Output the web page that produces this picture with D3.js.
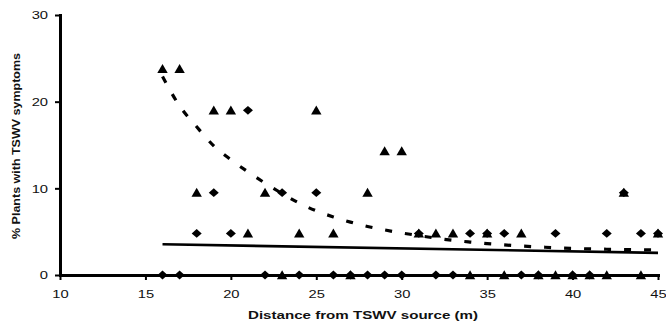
<!DOCTYPE html>
<html>
<head>
<meta charset="utf-8">
<script src="https://cdn.jsdelivr.net/npm/d3@7"></script>
<style>
  html, body { margin: 0; padding: 0; background: #fff; }
  svg { display: block; }
  text { font-family: "Liberation Sans", Arial, sans-serif; fill: #111; }
</style>
</head>
<body>
<svg id="chart" width="666" height="329"></svg>
<script>
// Distance from TSWV source (m)
const distance = [16,17,18,19,20,21,22,23,24,25,26,27,28,29,30,31,32,33,34,35,36,37,38,39,40,41,42,43,44,45];
// Series plotted with triangles (% plants with symptoms)
const triangleValues = [23.8,23.8,9.5,19.0,19.0,4.8,9.5,0,4.8,19.0,4.8,0,9.5,14.3,14.3,4.8,4.8,4.8,0,4.8,0,4.8,0,0,0,0,0,9.5,0,4.8];
// Series plotted with diamonds
const diamondValues = [0,0,4.8,9.5,4.8,19.0,0,9.5,0,9.5,0,0,0,0,0,4.8,0,0,4.8,4.8,4.8,0,0,4.8,0,0,4.8,9.5,4.8,4.8];
// Dashed trend curve
const dashedX = [16,17,18,19,20,21,22,23,24,25,26,27,28,29,30,31,32,33,34,35,36,37,38,39,40,41,42,43,44,45];
const dashedY = [22.9,19.5,17.1,14.9,13.3,11.9,10.6,9.4,8.3,7.4,6.7,6.1,5.6,5.2,4.85,4.55,4.25,4.0,3.8,3.62,3.47,3.34,3.24,3.14,3.07,3.01,2.97,2.94,2.91,2.9];
// Solid trend line endpoints
const solidX = [16,45];
const solidY = [3.55,2.55];
// Axis ticks
const xTicks = [10,15,20,25,30,35,40,45];
const yTicks = [0,10,20,30];
const xLabel = "Distance from TSWV source (m)";
const yLabel = "% Plants with TSWV symptoms";

const svg = d3.select("#chart");
const x = d3.scaleLinear().domain([10,45]).range([60,658]);
const y = d3.scaleLinear().domain([0,30]).range([275,15]);

// trend lines
const dashedData = dashedX.map((d,i)=>[d,dashedY[i]]);
svg.append("path")
  .datum(dashedData)
  .attr("fill","none").attr("stroke","#000")
  .attr("stroke-width",3.2).attr("stroke-dasharray","7,13")
  .attr("d", d3.line().x(d=>x(d[0])).y(d=>y(d[1])).curve(d3.curveMonotoneX));

const solidData = solidX.map((d,i)=>[d,solidY[i]]);
svg.append("path")
  .datum(solidData)
  .attr("fill","none").attr("stroke","#000").attr("stroke-width",2.6)
  .attr("d", d3.line().x(d=>x(d[0])).y(d=>y(d[1])));

// axes
const xAxis = svg.append("g").attr("transform","translate(0,275)")
  .call(d3.axisBottom(x).tickValues(xTicks).tickSize(5).tickSizeOuter(0).tickPadding(10));
const yAxis = svg.append("g").attr("transform","translate(60,0)")
  .call(d3.axisLeft(y).tickValues(yTicks).tickSize(5).tickSizeOuter(0).tickPadding(7));

[xAxis,yAxis].forEach(a=>{
  a.select(".domain").attr("stroke","#000").attr("stroke-width",3).attr("stroke-linecap","square");
  a.selectAll(".tick line").attr("stroke","#000").attr("stroke-width",2);
  a.selectAll(".tick text").attr("font-size","11.5px").attr("fill","#111")
    .attr("font-family","Liberation Sans, Arial, sans-serif");
});
// widen tick labels as in the reference
svg.selectAll(".tick text").each(function(){
  const t = d3.select(this);
  const w = this.getComputedTextLength();
  t.attr("textLength", w*1.28).attr("lengthAdjust","spacingAndGlyphs");
});

// markers
const diamondPath = "M0,-4.4L5,0L0,4.4L-5,0Z";
const trianglePath = "M0,-4.8L5.2,4.2L-5.2,4.2Z";
svg.append("g").selectAll("path").data(distance.map((d,i)=>[d,diamondValues[i]]))
  .join("path").attr("d",diamondPath).attr("fill","#000")
  .attr("transform",d=>`translate(${x(d[0])},${y(d[1])})`);
svg.append("g").selectAll("path").data(distance.map((d,i)=>[d,triangleValues[i]]))
  .join("path").attr("d",trianglePath).attr("fill","#000")
  .attr("transform",d=>`translate(${x(d[0])},${y(d[1])})`);

// axis titles
svg.append("text").attr("x",363).attr("y",319).attr("text-anchor","middle")
  .attr("font-size","11.5px").attr("font-weight","bold")
  .attr("textLength",230).attr("lengthAdjust","spacingAndGlyphs")
  .text(xLabel);
svg.append("text").attr("transform","translate(20,146) rotate(-90)")
  .attr("text-anchor","middle").attr("font-size","11.5px").attr("font-weight","bold")
  .attr("textLength",186).attr("lengthAdjust","spacingAndGlyphs")
  .text(yLabel);
</script>
</body>
</html>
